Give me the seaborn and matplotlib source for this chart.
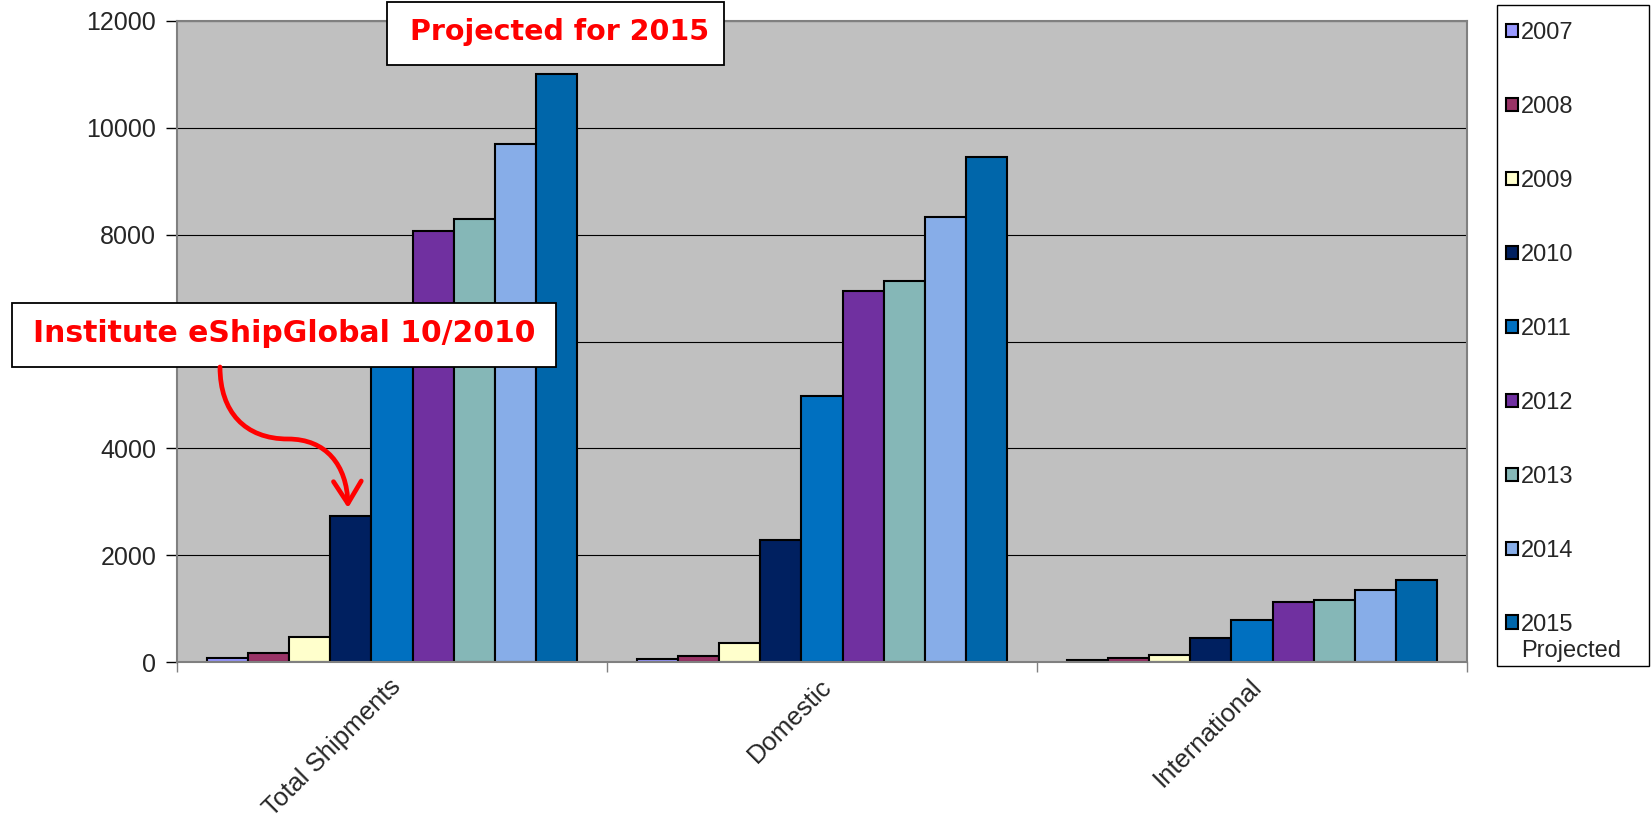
import numpy as np
import pandas as pd
import matplotlib
matplotlib.use('Agg')
import matplotlib.pyplot as plt
from matplotlib.patches import Rectangle, FancyArrowPatch
from matplotlib.path import Path
from matplotlib.transforms import ScaledTranslation
import seaborn as sns

# data
segments = ['Total Shipments', 'Domestic', 'International']
years = ['2007', '2008', '2009', '2010', '2011', '2012', '2013', '2014', '2015']
total = [75, 175, 470, 2735, 5770, 8060, 8300, 9690, 11000]
domestic = [56, 112, 356, 2290, 4980, 6940, 7140, 8335, 9460]
international = [37, 70, 131, 450, 787, 1131, 1155, 1348, 1543]
colors = ['#9999FF', '#993366', '#FFFFCC', '#002060', '#0070C0',
          '#7030A0', '#85B7B7', '#87ADE8', '#0066AA']
ytick_labels = ['0', '2000', '4000', '', '8000', '10000', '12000']  # 6000 sits under the callout

sns.set_theme(style='white')
plt.rcParams['font.family'] = ['Liberation Sans', 'DejaVu Sans']

W, H = 1651, 819

def fx(x):  # pixel -> figure fraction
    return x / W

def fy(y):
    return 1 - y / H

df = pd.DataFrame({
    'segment': np.repeat(segments, len(years)),
    'year': years * len(segments),
    'shipments': total + domestic + international,
})

fig = plt.figure(figsize=(W / 100, H / 100), dpi=100)
ax = fig.add_axes([fx(177), fy(662), (1467 - 177) / W, (662 - 21) / H])

sns.barplot(data=df, x='segment', y='shipments', hue='year', hue_order=years,
            palette=colors, saturation=1, width=0.86, edgecolor='black',
            linewidth=1.5, errorbar=None, ax=ax)

ax.set_facecolor('#C0C0C0')
ax.set_ylim(0, 12000)
ax.set_xlim(-0.5, 2.5)
ax.set_yticks(range(0, 12001, 2000))
ax.set_yticklabels(ytick_labels)
ax.yaxis.grid(True, color='black', lw=0.8)
ax.set_axisbelow(True)
ax.tick_params(axis='y', length=8, width=1, color='black', pad=7, labelsize=18, left=True)
ax.set_xticks([0, 1, 2])
ax.set_xticklabels(segments, rotation=45, ha='right', fontsize=18.5)
ax.tick_params(axis='x', which='major', length=0, pad=9)
for lab in ax.get_xticklabels():
    lab.set_transform(lab.get_transform() + ScaledTranslation(0.14, 0, fig.dpi_scale_trans))
ax.set_xticks([-0.5, 0.5, 1.5, 2.5], minor=True)
ax.tick_params(axis='x', which='minor', length=7, width=1, color='#808080', bottom=True)
ax.set_xlabel('')
ax.set_ylabel('')
for s in ax.spines.values():
    s.set_color('#808080')
    s.set_linewidth(1.5)

# legend in a box on the right
handles, labels = ax.get_legend_handles_labels()
ax.get_legend().remove()
leg = fig.legend(handles, labels, loc='upper left', bbox_to_anchor=(fx(1506), fy(22)),
                 frameon=False, fontsize=17, handlelength=0.5, handleheight=0.5,
                 handletextpad=0.12, labelspacing=2.2, borderaxespad=0, borderpad=0)
fig.add_artist(Rectangle((fx(1497), fy(666)), 152 / W, 661 / H, transform=fig.transFigure,
                         fill=False, ec='black', lw=1))
fig.canvas.draw()
bb = leg.get_texts()[-1].get_window_extent()
fig.text(bb.x0 / W, (bb.y0 - 4) / H, 'Projected', fontsize=17, ha='left', va='top')

# callout boxes
fig.add_artist(Rectangle((fx(387), fy(65)), (724 - 387) / W, 63 / H, transform=fig.transFigure,
                         fc='white', ec='black', lw=1.3, zorder=5))
fig.text(fx(560), fy(40), 'Projected for 2015', color='red', fontsize=20.5,
         fontweight='bold', family='DejaVu Sans', ha='center', va='baseline', zorder=6)

fig.add_artist(Rectangle((fx(12), fy(367)), (556 - 12) / W, 64 / H, transform=fig.transFigure,
                         fc='white', ec='black', lw=1.3, zorder=5))
fig.text(fx(284), fy(342), 'Institute eShipGlobal 10/2010', color='red', fontsize=21.5,
         fontweight='bold', family='DejaVu Sans', ha='center', va='baseline', zorder=6)

# curved red arrow pointing at the 2010 bar
pts = [(220, 367), (220, 412), (245, 439), (288, 439),
       (326, 439), (347, 465), (348, 508)]
codes = [Path.MOVETO, Path.CURVE4, Path.CURVE4, Path.CURVE4,
         Path.CURVE4, Path.CURVE4, Path.CURVE4]
path = Path([(fx(x), fy(y)) for x, y in pts], codes)
arrow = FancyArrowPatch(path=path, arrowstyle='->,head_length=0.8,head_width=0.5',
                        mutation_scale=20, color='red', lw=3.4,
                        transform=fig.transFigure, zorder=6)
fig.add_artist(arrow)

fig.savefig('out.png', dpi=100)
